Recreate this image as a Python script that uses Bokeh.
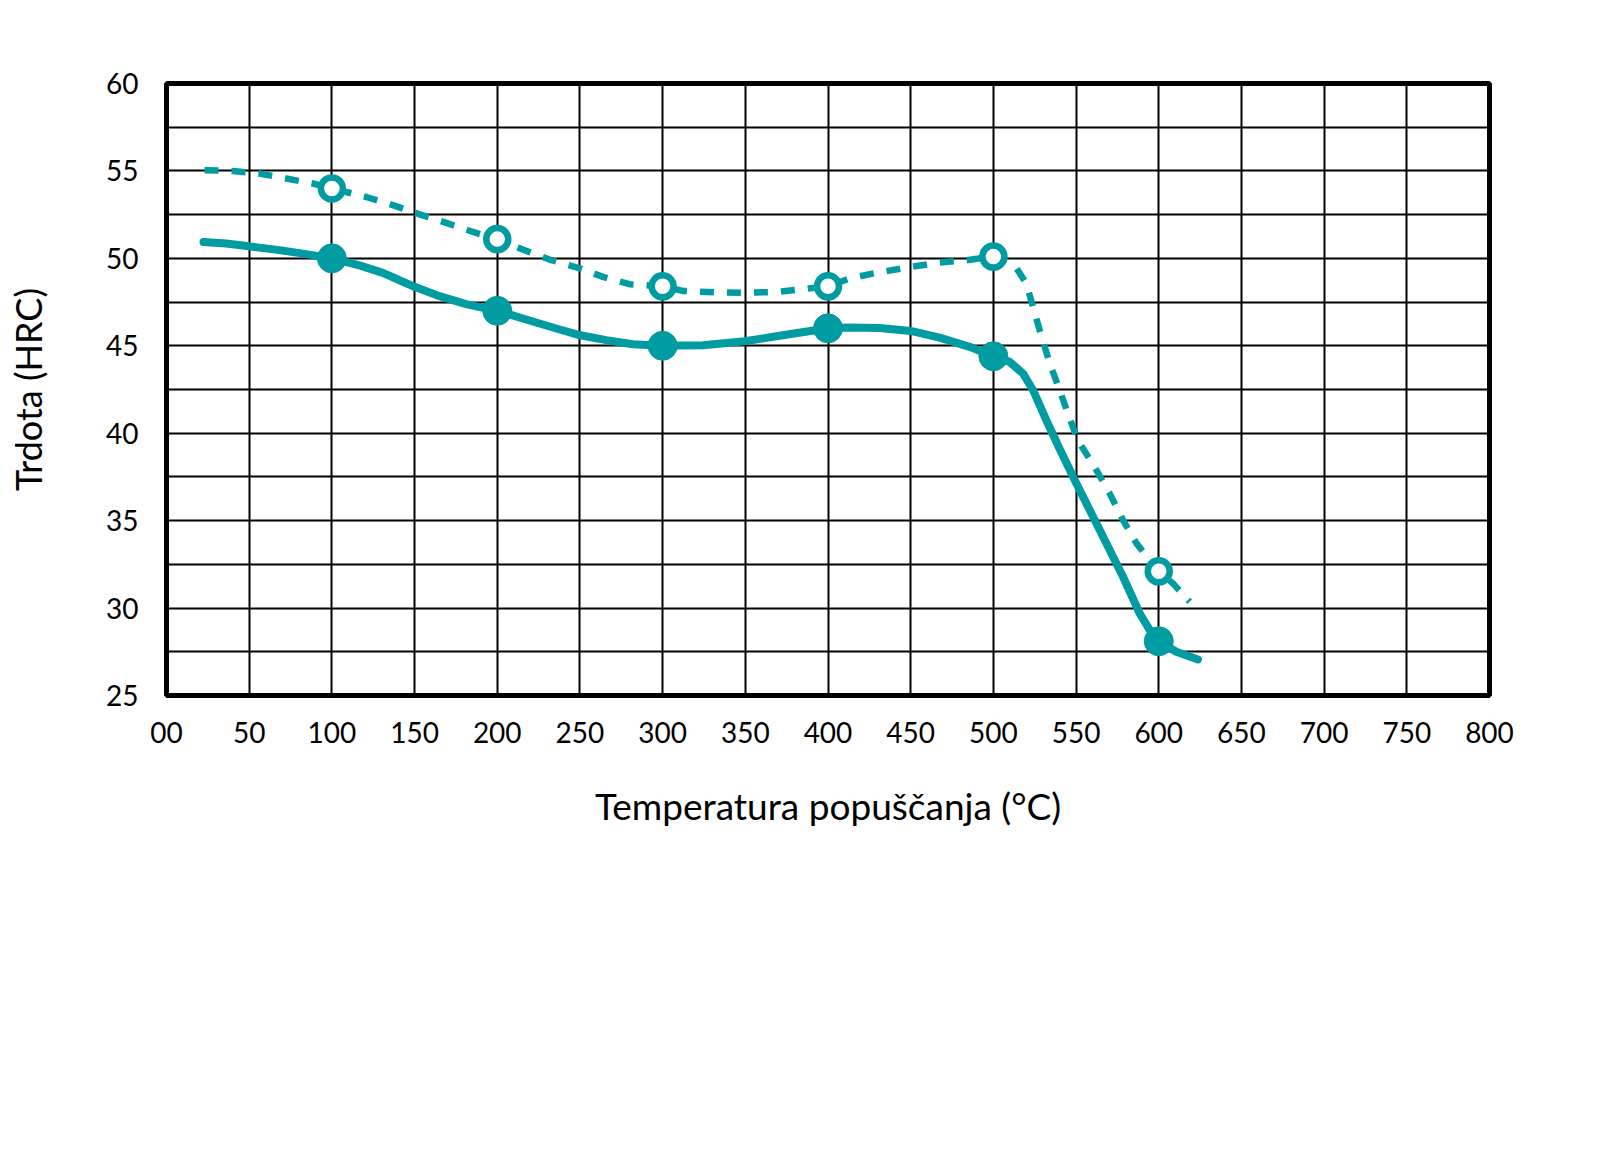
from bokeh.plotting import figure
from bokeh.models import FixedTicker, Range1d
from bokeh.embed import file_html
from bokeh.resources import INLINE

# ---- data ----
temps = [100, 200, 300, 400, 500, 600]
hard_solid = [50.0, 47.0, 45.0, 46.0, 44.4, 28.1]
hard_dashed = [54.0, 51.1, 48.4, 48.4, 50.1, 32.1]

# traced curve paths
solid_curve_x = [22.4, 36.1, 49.8, 68.3, 84.5, 100, 116.7, 130.8, 140.9, 150, 165.1, 181.2, 200,
                 215.5, 235.7, 250.2, 265.9, 282, 300, 324.4, 349.8, 372.7, 400,
                 413.1, 431.2, 450, 467.5, 485.6, 500, 509.8, 517.9, 524, 532, 540.1,
                 550.2, 564.3, 578.4, 588.5, 594.6, 600, 610.6, 623.7]
solid_curve_y = [50.94, 50.85, 50.69, 50.47, 50.24, 50.0, 49.6, 49.17, 48.75, 48.37, 47.84, 47.38, 47.0,
                 46.56, 45.99, 45.6, 45.32, 45.09, 45.0, 45.03, 45.26, 45.6, 46.0,
                 46.05, 46.02, 45.85, 45.47, 44.94, 44.4, 44.08, 43.42, 42.46, 40.75, 39.1,
                 37.13, 34.46, 31.79, 29.69, 28.74, 28.1, 27.5, 27.06]

dashed_curve_x = [23, 40.1, 56.2, 72.4, 88.5, 100, 120.8, 136.9, 153, 169.2, 185.3, 200,
                  215.5, 231.6, 250.2, 263.9, 280, 300, 312.2, 332.4, 349.8, 368.7, 384.8, 400,
                  413.1, 429.2, 450, 467.5, 483.6, 500, 512.8, 519.9, 524, 528, 534.1, 540.1,
                  546.1, 551.1, 562.3, 570.3, 578.4, 586.5, 600, 608.6, 618.7]
dashed_curve_y = [55.04, 55.0, 54.85, 54.57, 54.28, 54.0, 53.51, 53.04, 52.52, 52.03, 51.51, 51.1,
                  50.5, 49.93, 49.42, 48.94, 48.52, 48.4, 48.14, 48.05, 48.03, 48.08, 48.24, 48.4,
                  48.85, 49.17, 49.51, 49.76, 49.89, 50.1, 49.61, 48.56, 47.22, 45.89, 43.99, 42.46,
                  40.85, 39.6, 37.89, 36.56, 35.03, 33.7, 32.1, 31.41, 30.36]

x_ticks = list(range(0, 801, 50))
y_ticks = list(range(25, 61, 5))
x_grid = list(range(0, 801, 50))
y_grid = [25 + 2.5 * i for i in range(15)]

x_title = "Temperatura popuščanja (°C)"
y_title = "Trdota (HRC)"

TEAL = "#009ca2"
FONT = "Lato"

p = figure(frame_width=1323, frame_height=612, output_backend="svg", toolbar_location=None,
           x_range=Range1d(0, 800), y_range=Range1d(25, 60),
           min_border_left=166, min_border_top=83, min_border_right=103, min_border_bottom=140)

p.background_fill_color = "white"
p.border_fill_color = "white"
p.outline_line_color = "black"
p.outline_line_width = 5

p.xaxis.ticker = FixedTicker(ticks=x_ticks)
p.yaxis.ticker = FixedTicker(ticks=y_ticks)
p.xaxis.major_label_overrides = {0: "00"}
p.xgrid.ticker = FixedTicker(ticks=x_grid)
p.ygrid.ticker = FixedTicker(ticks=y_grid)
for g in (p.xgrid, p.ygrid):
    g.grid_line_color = "black"
    g.grid_line_width = 2
    g.grid_line_alpha = 1.0

for ax in (p.xaxis, p.yaxis):
    ax.axis_line_color = None
    ax.major_tick_line_color = None
    ax.minor_tick_line_color = None
    ax.major_label_text_font = FONT
    ax.major_label_text_font_size = "28px"
    ax.major_label_text_color = "black"
    ax.axis_label_text_font = FONT
    ax.axis_label_text_font_style = "normal"
    ax.axis_label_text_color = "black"

p.xaxis.major_label_standoff = 20
p.yaxis.major_label_standoff = 22
p.xaxis.axis_label = x_title
p.yaxis.axis_label = y_title
p.xaxis.axis_label_text_font_size = "37px"
p.yaxis.axis_label_text_font_size = "36px"
p.xaxis.axis_label_standoff = 37
p.yaxis.axis_label_standoff = 53

p.line(dashed_curve_x, dashed_curve_y, line_color=TEAL, line_width=6.5, line_dash="14 13")
p.line(solid_curve_x, solid_curve_y, line_color=TEAL, line_width=8, line_join="round", line_cap="round")

p.scatter(temps, hard_solid, marker="circle", size=29, fill_color=TEAL, line_color=TEAL, line_width=1)
p.scatter(temps, hard_dashed, marker="circle", size=22, fill_color="white", line_color=TEAL, line_width=6.5)

open("out.html", "w").write(file_html(p, INLINE))
